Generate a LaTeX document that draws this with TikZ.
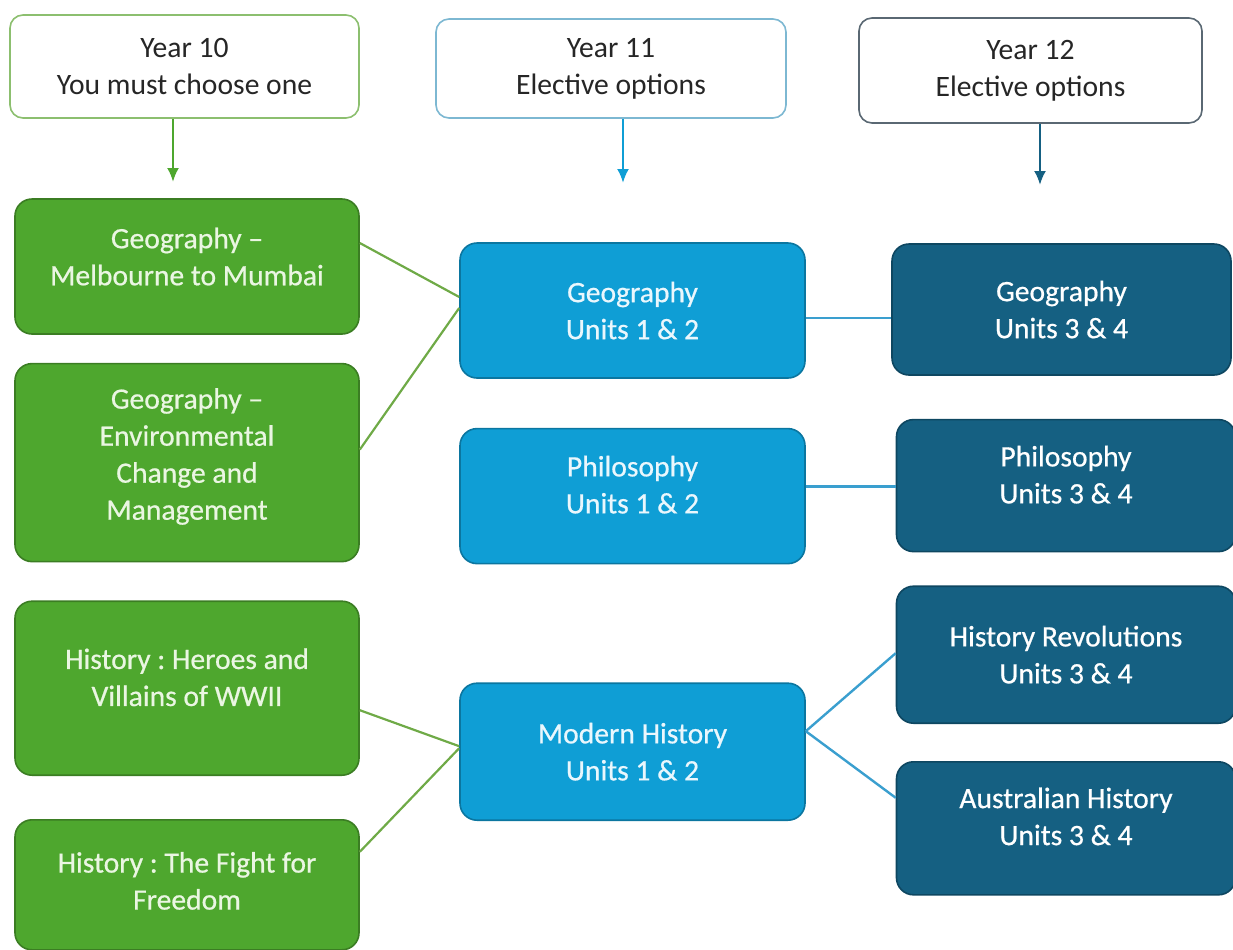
\documentclass[tikz,border=0pt]{standalone}
\usepackage{fontspec}
\setmainfont{Carlito}
\newfontfamily\boxfont{Carlito}[Ligatures=TeX, FakeBold=0.6]
\usetikzlibrary{positioning,arrows.meta}
\frenchspacing

\definecolor{gfill}{HTML}{4EA72E}
\definecolor{gline}{HTML}{3B7D23}
\definecolor{gtext}{HTML}{EAF6E2}
\definecolor{glink}{HTML}{6FAA47}
\definecolor{ghead}{HTML}{8CBF6F}
\definecolor{bfill}{HTML}{0F9ED5}
\definecolor{bline}{HTML}{0B76A0}
\definecolor{btext}{HTML}{EAF7FD}
\definecolor{blink}{HTML}{3A9FCF}
\definecolor{bhead}{HTML}{7DB8D2}
\definecolor{dfill}{HTML}{156082}
\definecolor{dline}{HTML}{0E4761}
\definecolor{dhead}{HTML}{5A6873}
\definecolor{headtext}{HTML}{262626}

\begin{document}
\begin{tikzpicture}[x=0.5pt, y=-0.5pt,
	rec/.style  = {draw, rectangle, rounded corners=8.5pt, line width=0.8pt, inner sep=0pt, align=center, font=\fontsize{14.8}{18.5}\selectfont},
	head/.style = {rec, rounded corners=6.5pt, fill=white, text=headtext},
	year 10/.style = {rec, fill=gfill, draw=gline, text=gtext, font=\fontsize{14.8}{18.5}\boxfont, minimum width=172pt},
	year 11/.style = {rec, fill=bfill, draw=bline, text=btext, font=\fontsize{14.8}{18.5}\boxfont, minimum width=172.5pt, minimum height=67.5pt},
	year 12/.style = {rec, fill=dfill, draw=dline, text=white, font=\fontsize{14.8}{18.5}\boxfont, minimum width=169.5pt},
	link/.style = {line width=1.1pt},
	>={Latex[length=7pt, width=6pt]}]
	
	\useasboundingbox (0,0) rectangle (1233,949);
	
	% headings of the three years
	\node[head, draw=ghead, minimum width=174.5pt, minimum height=51.5pt] (h1) at (184.5,66.5) {Year 10\\You must choose one};
	\node[head, draw=bhead, minimum width=175pt, minimum height=49.5pt] (h2) at (611,68.5) {Year 11\\Elective options};
	\node[head, draw=dhead, minimum width=171.5pt, minimum height=52.5pt] (h3) at (1030.5,70.5) {Year 12\\Elective options};
	
	\coordinate (a1) at (173,182);
	\coordinate (a2) at (623,183);
	\coordinate (a3) at (1040,185);
	
	\foreach \i/\col in {1/gfill,2/bfill,3/dfill}
	\draw[->, \col, line width=1.2pt] (h\i.south -| a\i) -- (a\i);
	
	% Year 10 column
	\node[year 10, minimum height=67.5pt, text depth=10pt] (c11) at (187,266.5) {Geography --\\Melbourne to Mumbai};
	\node[year 10, minimum height=99pt, text depth=8.7pt, below=14pt of c11] (c12) {Geography --\\Environmental\\Change and\\Management};
	\node[year 10, minimum height=87pt, text depth=11pt, below=19pt of c12] (c13) {History : Heroes and\\Villains of WWII};
	\node[year 10, minimum height=65pt, text depth=4pt, below=21.5pt of c13] (c14) {History : The Fight for\\Freedom};
	
	% Year 11 column
	\node[year 11] (c21) at (632.5,310.5) {Geography\\Units 1 \& 2};
	\node[year 11, text depth=11.5pt, below=24.5pt of c21] (c22) {Philosophy\\Units 1 \& 2};
	\node[year 11, minimum height=68.5pt, below=59pt of c22] (c23) {Modern History\\Units 1 \& 2};
	
	% Year 12 column
	\node[year 12, minimum height=65.5pt] (c31) at (1061.5,309.5) {Geography\\Units 3 \& 4};
	\node[year 12, minimum height=66pt, text depth=11pt, below=21.5pt of c31, xshift=2.25pt] (c32) {Philosophy\\Units 3 \& 4};
	\node[year 12, minimum height=68.5pt, below=16.5pt of c32] (c33) {History Revolutions\\Units 3 \& 4};
	\node[year 12, minimum height=66.5pt, text depth=12pt, below=18.5pt of c33] (c34) {Australian History\\Units 3 \& 4};
	
	% Year 10 to Year 11
	\foreach \a/\sa/\b/\sb in {c11/11.75/c21/6.75, c12/6.5/c21/1.25, c13/-11/c23/2.75, c14/16.5/c23/1.75}
	\draw[link, glink] ([yshift=\sa pt]\a.east) -- ([yshift=\sb pt]\b.west);
	
	% Year 11 to Year 12
	\foreach \a/\sa/\b/\sb in {c21/-3.75/c31/-4.25, c22/4.75/c32/-0.5, c23/10.25/c33/0.75, c23/10.25/c34/15.25}
	\draw[link, blink, line width=1.2pt] ([yshift=\sa pt]\a.east) -- ([yshift=\sb pt]\b.west);
\end{tikzpicture}
\end{document}
